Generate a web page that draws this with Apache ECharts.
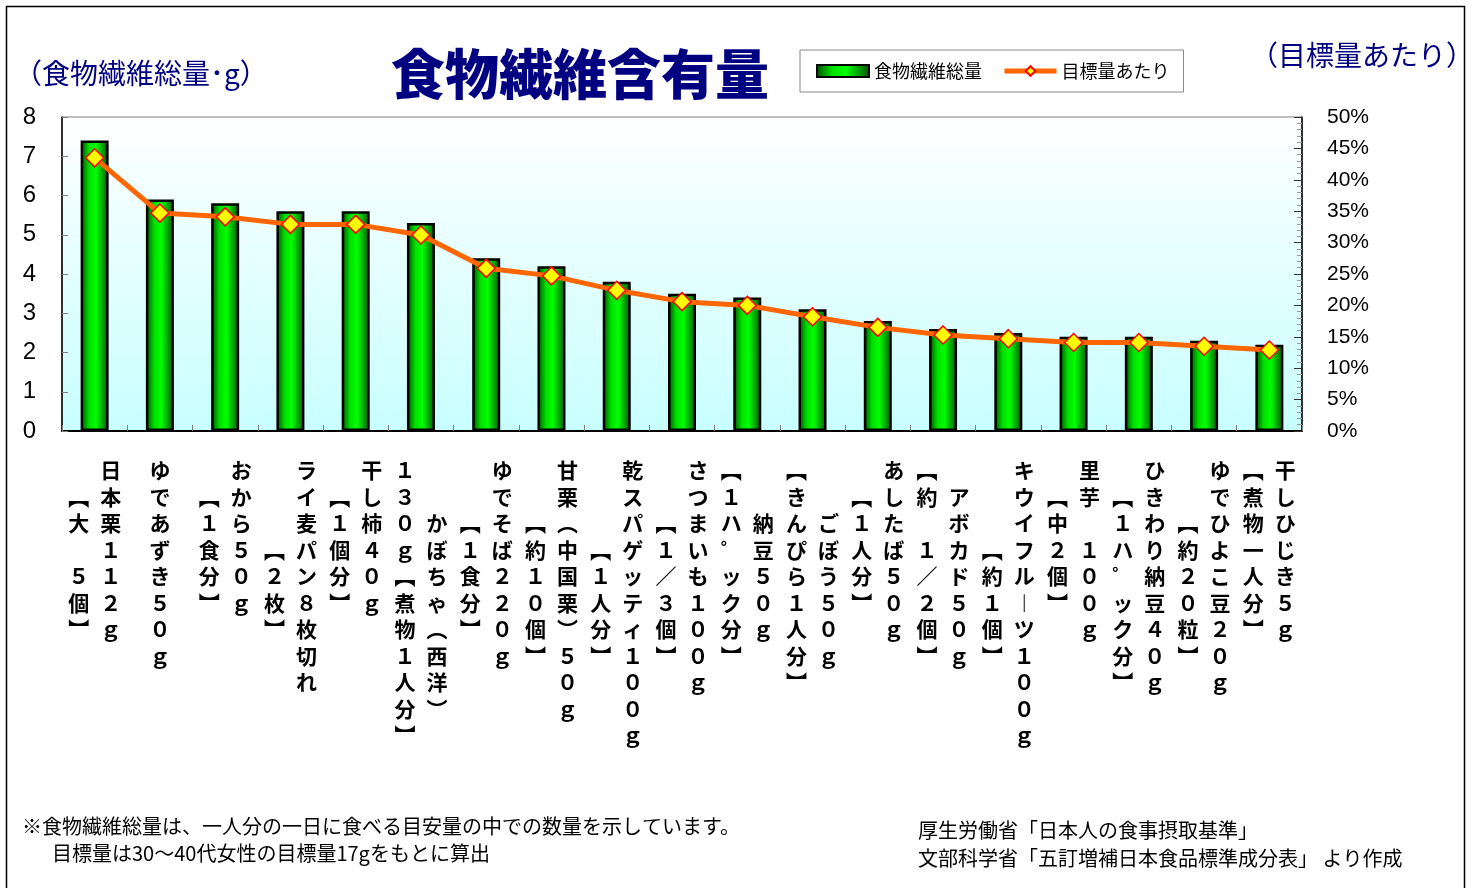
<!DOCTYPE html>
<html><head><meta charset="utf-8">
<script src="https://cdn.jsdelivr.net/npm/echarts@6/dist/echarts.min.js"></script>
<style>html,body{margin:0;padding:0;background:#fff}#c{width:1478px;height:888px}</style>
</head><body><div id="c"></div>
<script>
// Category labels: "\n" separates the vertical text columns (right-to-left)
const categories = [
  '日本栗１１２ｇ\n【大　５個】',
  'ゆであずき５０ｇ',
  'おから５０ｇ\n【１食分】',
  'ライ麦パン８枚切れ\n【２枚】',
  '干し柿４０ｇ\n【１個分】',
  'かぼちゃ（西洋）\n１３０ｇ【煮物１人分】',
  'ゆでそば２２０ｇ\n【１食分】',
  '甘栗（中国栗）５０ｇ\n【約１０個】',
  '乾スパゲッティ１００ｇ\n【１人分】',
  'さつまいも１００ｇ\n【１／３個】',
  '納豆５０ｇ\n【１ハ゜ック分】',
  'ごぼう５０ｇ\n【きんぴら１人分】',
  'あしたば５０ｇ\n【１人分】',
  'アボカド５０ｇ\n【約　１／２個】',
  'キウイフルーツ１００ｇ\n【約１個】',
  '里芋　１００ｇ\n【中２個】',
  'ひきわり納豆４０ｇ\n【１ハ゜ック分】',
  'ゆでひよこ豆２０ｇ\n【約２０粒】',
  '干しひじき５ｇ\n【煮物一人分】'
];
const fiberTotal = [7.4, 5.9, 5.8, 5.6, 5.6, 5.3, 4.4, 4.2, 3.8, 3.5, 3.4, 3.1, 2.8, 2.6, 2.5, 2.4, 2.4, 2.3, 2.2];
const targetShare = [43.5, 34.7, 34.1, 32.9, 32.9, 31.2, 25.9, 24.7, 22.4, 20.6, 20.0, 18.2, 16.5, 15.3, 14.7, 14.1, 14.1, 13.5, 12.9];
const seriesNames = ['食物繊維総量', '目標量あたり'];
const chartTitle = '食物繊維含有量';
const leftAxisName = '（食物繊維総量･g）';
const rightAxisName = '（目標量あたり）';
const noteLines = ['※食物繊維総量は、一人分の一日に食べる目安量の中での数量を示しています。', '目標量は30～40代女性の目標量17gをもとに算出'];
const sourceLines = ['厚生労働省「日本人の食事摂取基準」', '文部科学省「五訂増補日本食品標準成分表」 より作成'];

const VMAP = {'【':'︻','】':'︼','（':'︵','）':'︶','ー':'︱'};
function verticalLabel(value) {
  const cols = String(value).split('\n').map(s => Array.from(s).map(ch => VMAP[ch] || ch));
  const maxLen = Math.max.apply(null, cols.map(c => c.length));
  const padded = cols.map(c => {
    const off = Math.round((maxLen - c.length) / 2);
    const arr = new Array(maxLen).fill('　');
    c.forEach((ch, i) => { arr[off + i] = ch; });
    return arr;
  });
  const rows = [];
  for (let r = 0; r < maxLen; r++) {
    let line = '';
    for (let k = padded.length - 1; k >= 0; k--) line += '{c|' + padded[k][r] + '}';
    rows.push(line);
  }
  return rows.join('\n');
}

const chart = echarts.init(document.getElementById('c'), null, {renderer: 'canvas'});
const JP = '"Noto Sans CJK JP", "Noto Sans", sans-serif';
const option = {
  animation: false,
  backgroundColor: '#fff',
  textStyle: {fontFamily: JP},
  grid: {
    left: 62, right: 176, top: 117, height: 314,
    show: true, borderColor: '#808080', borderWidth: 1,
    backgroundColor: {type: 'linear', x: 0, y: 0, x2: 0, y2: 1,
      colorStops: [{offset: 0, color: '#ffffff'}, {offset: 1, color: '#c8ffff'}]}
  },
  legend: {
    left: 800, top: 50,
    backgroundColor: '#fff', borderColor: '#888', borderWidth: 1,
    padding: [12, 14, 12, 16], itemGap: 20, itemWidth: 52, itemHeight: 12,
    textStyle: {fontSize: 18, color: '#000', fontFamily: JP},
    data: [
      {name: seriesNames[0], icon: 'rect'},
      {name: seriesNames[1], lineStyle: {width: 5, color: '#ff6600'}}
    ]
  },
  xAxis: {
    type: 'category', data: categories,
    axisLine: {lineStyle: {color: '#000', width: 2}},
    axisTick: {show: true, inside: true, length: 6, lineStyle: {color: '#808080'}},
    axisLabel: {
      interval: 0, margin: 26, hideOverlap: false,
      formatter: verticalLabel,
      rich: {c: {width: 32, align: 'center', fontSize: 21, lineHeight: 26.5, fontWeight: 'bold', fontFamily: JP, color: '#000'}}
    },
    splitLine: {show: false}
  },
  yAxis: [{
    type: 'value', min: 0, max: 8, interval: 1,
    axisLine: {show: true, lineStyle: {color: '#000', width: 1.5}},
    axisTick: {show: true, inside: true, length: 6, lineStyle: {color: '#808080'}},
    axisLabel: {fontSize: 24, color: '#000', margin: 26, fontFamily: '"Liberation Sans", Arial, sans-serif'},
    splitLine: {show: false}
  }, {
    type: 'value', min: 0, max: 50, interval: 5, position: 'right',
    axisLine: {show: true, lineStyle: {color: '#000', width: 1.5}},
    axisTick: {show: true, inside: true, length: 8, lineStyle: {color: '#333'}},
    minorTick: {show: true, splitNumber: 5, length: 5, lineStyle: {color: '#999'}},
    axisLabel: {fontSize: 21, color: '#000', margin: 25, formatter: '{value}%', fontFamily: '"Liberation Sans", Arial, sans-serif'},
    splitLine: {show: false}
  }],
  series: [{
    name: seriesNames[0], type: 'bar', data: fiberTotal, barWidth: 28, z: 2,
    itemStyle: {
      color: {type: 'linear', x: 0, y: 0, x2: 1, y2: 0, colorStops: [
        {offset: 0, color: '#004a00'}, {offset: 0.3, color: '#00e000'},
        {offset: 0.55, color: '#00ff00'}, {offset: 1, color: '#005000'}]},
      borderColor: '#000', borderWidth: 2.5
    }
  }, {
    name: seriesNames[1], type: 'line', yAxisIndex: 1, data: targetShare, z: 5,
    symbol: 'diamond', symbolSize: 18,
    lineStyle: {color: '#ff6600', width: 5},
    itemStyle: {color: '#ffff00', borderColor: '#ff0000', borderWidth: 1.5}
  }],
  graphic: [
    {type: 'rect', silent: true, z: -10, shape: {x: 6.5, y: 6.5, width: 1458, height: 900},
      style: {fill: 'none', stroke: '#000', lineWidth: 1.5}},
    {type: 'text', x: 580, y: 74, style: {text: chartTitle, fill: '#000080', font: '900 54px ' + JP, textAlign: 'center', textVerticalAlign: 'middle'}},
    {type: 'text', x: 14, y: 73, style: {text: leftAxisName, fill: '#000080', font: '28px ' + JP, textVerticalAlign: 'middle'}},
    {type: 'text', x: 1250, y: 55, style: {text: rightAxisName, fill: '#000080', font: '28px ' + JP, textVerticalAlign: 'middle'}},
    {type: 'text', x: 22, y: 826, style: {text: noteLines[0], fill: '#000', font: '20px ' + JP, textVerticalAlign: 'middle'}},
    {type: 'text', x: 52, y: 853, style: {text: noteLines[1], fill: '#000', font: '20px ' + JP, textVerticalAlign: 'middle'}},
    {type: 'text', x: 918, y: 830, style: {text: sourceLines[0], fill: '#000', font: '20px ' + JP, textVerticalAlign: 'middle'}},
    {type: 'text', x: 918, y: 858, style: {text: sourceLines[1], fill: '#000', font: '20px ' + JP, textVerticalAlign: 'middle'}}
  ]
};
chart.setOption(option);
</script>
</body></html>
